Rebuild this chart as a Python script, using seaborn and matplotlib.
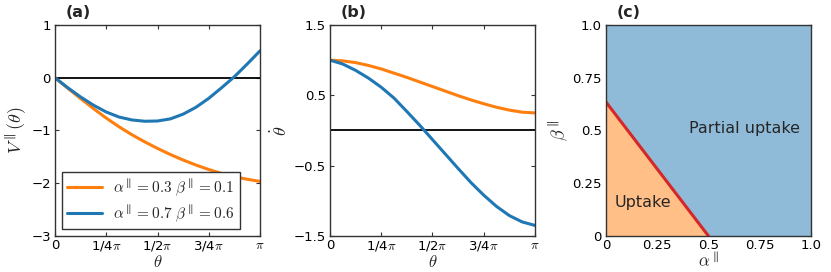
import numpy as np
import pandas as pd
import matplotlib
matplotlib.use("Agg")
import matplotlib.pyplot as plt
import seaborn as sns

# ---------------------------------------------------------------
# values (theta in units of pi)
# ---------------------------------------------------------------
theta_frac = [0, 0.0625, 0.125, 0.1875, 0.25, 0.3125, 0.375, 0.4375, 0.5,
              0.5625, 0.625, 0.6875, 0.75, 0.8125, 0.875, 0.9375, 1.0]

V_case1 = [0, -0.20, -0.395, -0.585, -0.765, -0.93, -1.08, -1.215, -1.34,
           -1.455, -1.56, -1.655, -1.74, -1.815, -1.875, -1.925, -1.965]
V_case2 = [0, -0.19, -0.365, -0.52, -0.65, -0.745, -0.80, -0.825, -0.82,
           -0.78, -0.69, -0.56, -0.39, -0.19, 0.02, 0.26, 0.51]

thdot_case1 = [1.0, 0.99, 0.965, 0.925, 0.875, 0.815, 0.755, 0.69, 0.625,
               0.56, 0.495, 0.435, 0.38, 0.33, 0.29, 0.26, 0.25]
thdot_case2 = [1.0, 0.945, 0.855, 0.745, 0.615, 0.46, 0.27, 0.075, -0.13,
               -0.335, -0.54, -0.74, -0.92, -1.08, -1.21, -1.30, -1.35]

case_labels = [r'$\alpha^{\parallel}=0.3\ \beta^{\parallel}=0.1$',
               r'$\alpha^{\parallel}=0.7\ \beta^{\parallel}=0.6$']

# phase diagram boundary (panel c)
alpha_edge = [0.0, 0.5, 1.0]
beta_edge = [0.635, 0.0, 0.0]

theta_ticks = [0, 0.25, 0.5, 0.75, 1.0]
theta_ticklabels = ['0', r'1/4$\pi$', r'1/2$\pi$', r'3/4$\pi$', r'$\pi$']
ab_ticks = [0, 0.25, 0.5, 0.75, 1.0]
ab_ticklabels = ['0', '0.25', '0.5', '0.75', '1.0']

# ---------------------------------------------------------------
sns.set_style("ticks")
plt.rcParams.update({
    'font.family': ['DejaVu Sans'],
    'mathtext.fontset': 'cm',
    'xtick.direction': 'in', 'ytick.direction': 'in',
    'xtick.top': True, 'ytick.right': True,
    'axes.edgecolor': '#333333',
    'xtick.color': '#333333', 'ytick.color': '#333333',
    'xtick.labelcolor': 'black', 'ytick.labelcolor': 'black',
    'xtick.labelsize': 9.5, 'ytick.labelsize': 9.5,
    'xtick.major.size': 3, 'ytick.major.size': 3,
    'xtick.major.pad': 2.5, 'ytick.major.pad': 3,
})

theta = np.array(theta_frac) * np.pi
df = pd.DataFrame({
    'theta': np.concatenate([theta, theta]),
    'V': V_case1 + V_case2,
    'thdot': thdot_case1 + thdot_case2,
    'case': [case_labels[0]] * len(theta) + [case_labels[1]] * len(theta),
})
pal = {case_labels[0]: '#ff7f0e', case_labels[1]: '#1f77b4'}

fig = plt.figure(figsize=(8.31, 2.72), dpi=100)
ax_a = fig.add_axes([0.0662, 0.1324, 0.2467, 0.7757])
ax_b = fig.add_axes([0.3971, 0.1324, 0.2467, 0.7757])
ax_c = fig.add_axes([0.7292, 0.1324, 0.2467, 0.7757])

# (a) potential
ax_a.axhline(0, color='black', lw=1.3, zorder=1)
sns.lineplot(data=df, x='theta', y='V', hue='case', palette=pal, lw=2.2,
             ax=ax_a, zorder=3)
ax_a.set_xlim(0, np.pi)
ax_a.set_ylim(-3, 1)
ax_a.set_yticks([-3, -2, -1, 0, 1])
ax_a.set_xlabel(r'$\theta$', fontsize=12, labelpad=0)
ax_a.set_ylabel(r'$V^{\parallel}(\theta)$', fontsize=13, labelpad=2)
leg = ax_a.legend(loc='lower left', fontsize=11, fancybox=False,
                  edgecolor='#333333', framealpha=1, handlelength=2.3,
                  handletextpad=0.7, borderaxespad=0.45, labelspacing=0.3,
                  borderpad=0.35)
leg.get_frame().set_linewidth(1.0)

# (b) angular velocity
ax_b.axhline(0, color='black', lw=1.3, zorder=1)
sns.lineplot(data=df, x='theta', y='thdot', hue='case', palette=pal, lw=2.2,
             ax=ax_b, legend=False, zorder=3)
ax_b.set_xlim(0, np.pi)
ax_b.set_ylim(-1.5, 1.5)
ax_b.set_yticks([-1.5, -0.5, 0.5, 1.5])
ax_b.set_yticklabels(['\u22121.5', '\u22120.5', '0.5', '1.5'])
ax_b.set_xlabel(r'$\theta$', fontsize=12, labelpad=0)
ax_b.set_ylabel(r'$\dot{\theta}$', fontsize=13, labelpad=2)

for ax in (ax_a, ax_b):
    ax.set_xticks(np.array(theta_ticks) * np.pi)
    ax.set_xticklabels(theta_ticklabels)

# (c) phase diagram
ax_c.fill_between(alpha_edge, 0, beta_edge, color='#ffbf86', lw=0, zorder=1)
ax_c.fill_between(alpha_edge, beta_edge, 1, color='#8fbbd9', lw=0, zorder=1)
sns.lineplot(x=alpha_edge[:2], y=beta_edge[:2], color='#d62728', lw=2.2,
             ax=ax_c, zorder=3)
ax_c.text(0.675, 0.51, 'Partial uptake', fontsize=11.5, ha='center', va='center')
ax_c.text(0.18, 0.16, 'Uptake', fontsize=11.5, ha='center', va='center')
ax_c.set_xlim(0, 1)
ax_c.set_ylim(0, 1)
ax_c.set_xticks(ab_ticks)
ax_c.set_xticklabels(ab_ticklabels)
ax_c.set_yticks(ab_ticks)
ax_c.set_yticklabels(ab_ticklabels)
ax_c.set_xlabel(r'$\alpha^{\parallel}$', fontsize=12, labelpad=0)
ax_c.set_ylabel(r'$\beta^{\parallel}$', fontsize=13, labelpad=2)

for ax, lab in zip((ax_a, ax_b, ax_c), ['(a)', '(b)', '(c)']):
    ax.text(0.05, 1.06, lab, transform=ax.transAxes, fontsize=11.5,
            fontweight='bold', ha='left', va='center')
    for sp in ax.spines.values():
        sp.set_linewidth(1.0)
        sp.set_zorder(5)

fig.savefig('out.png', dpi=100)
